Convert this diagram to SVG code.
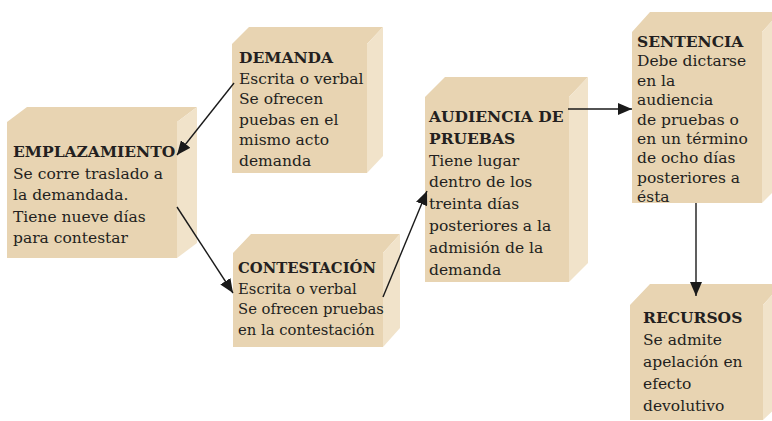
<svg xmlns="http://www.w3.org/2000/svg" width="772" height="421" viewBox="0 0 772 421">
<defs>
<style>
.front{fill:#e8d4b2}
.side{fill:#f1e3ca}
text{font-family:"DejaVu Serif","Liberation Serif",serif;font-size:15.5px;fill:#231f20}
.sm{font-size:14.8px}
.b{font-weight:bold}
.conn line{stroke:#1a1a1a;stroke-width:1.4}
</style>
<marker id="ah" viewBox="0 0 14 12" refX="14" refY="6" markerWidth="14" markerHeight="12" markerUnits="userSpaceOnUse" orient="auto">
<path d="M0,0 L14,6 L0,12 Z" fill="#1a1a1a"/>
</marker>
</defs>
<rect width="772" height="421" fill="#ffffff"/>

<g id="emplazamiento">
<path class="front" d="M7,122 L27,107 L197,107 L177,122 L177,258 L7,258 Z"/>
<path class="side" d="M177,122 L197,107 L197,243 L177,258 Z"/>
<text x="13" y="157"><tspan class="b">EMPLAZAMIENTO</tspan><tspan x="13" dy="21.5">Se corre traslado a</tspan><tspan x="13" dy="21.5">la demandada.</tspan><tspan x="13" dy="21.5">Tiene nueve días</tspan><tspan x="13" dy="21.5">para contestar</tspan></text>
</g>

<g id="demanda">
<path class="front" d="M232,44 L249,27 L383,27 L367,44 L367,173 L232,173 Z"/>
<path class="side" d="M367,44 L383,27 L383,156 L367,173 Z"/>
<text x="239" y="63"><tspan class="b">DEMANDA</tspan><tspan x="239" dy="20.6">Escrita o verbal</tspan><tspan x="239" dy="20.6">Se ofrecen</tspan><tspan x="239" dy="20.6">puebas en el</tspan><tspan x="239" dy="20.6">mismo acto</tspan><tspan x="239" dy="20.6">demanda</tspan></text>
</g>

<g id="contestacion">
<path class="front" d="M233,253 L251,234 L400,234 L383,253 L383,347 L233,347 Z"/>
<path class="side" d="M383,253 L400,234 L400,328 L383,347 Z"/>
<text class="sm" x="238" y="273"><tspan class="b">CONTESTACIÓN</tspan><tspan x="238" dy="20.7">Escrita o verbal</tspan><tspan x="238" dy="20.7">Se ofrecen pruebas</tspan><tspan x="238" dy="20.7">en la contestación</tspan></text>
</g>

<g id="audiencia">
<path class="front" d="M425,97 L445,77 L588,77 L569,97 L569,282 L425,282 Z"/>
<path class="side" d="M569,97 L588,77 L588,263 L569,282 Z"/>
<text x="429" y="122"><tspan class="b">AUDIENCIA DE</tspan><tspan class="b" x="429" dy="21.8">PRUEBAS</tspan><tspan x="429" dy="21.8">Tiene lugar</tspan><tspan x="429" dy="21.8">dentro de los</tspan><tspan x="429" dy="21.8">treinta días</tspan><tspan x="429" dy="21.8">posteriores a la</tspan><tspan x="429" dy="21.8">admisión de la</tspan><tspan x="429" dy="21.8">demanda</tspan></text>
</g>

<g id="sentencia">
<path class="front" d="M632,32 L650,12 L780,12 L762,32 L762,203 L632,203 Z"/>
<path class="side" d="M762,32 L780,12 L780,185 L762,203 Z"/>
<text x="637" y="47"><tspan class="b">SENTENCIA</tspan><tspan x="637" dy="19.4">Debe dictarse</tspan><tspan x="637" dy="19.4">en la</tspan><tspan x="637" dy="19.4">audiencia</tspan><tspan x="637" dy="19.4">de pruebas o</tspan><tspan x="637" dy="19.4">en un término</tspan><tspan x="637" dy="19.4">de ocho días</tspan><tspan x="637" dy="19.4">posteriores a</tspan><tspan x="637" dy="19.4">ésta</tspan></text>
</g>

<g id="recursos">
<path class="front" d="M630,305 L650,284 L782,284 L763,305 L763,420 L630,420 Z"/>
<path class="side" d="M763,305 L782,284 L782,402 L763,420 Z"/>
<text x="643" y="323"><tspan class="b">RECURSOS</tspan><tspan x="643" dy="22">Se admite</tspan><tspan x="643" dy="22">apelación en</tspan><tspan x="643" dy="22">efecto</tspan><tspan x="643" dy="22">devolutivo</tspan></text>
</g>

<g id="connectors" class="conn">
<line x1="234" y1="83" x2="177" y2="155" marker-end="url(#ah)"/>
<line x1="177" y1="207" x2="233" y2="293" marker-end="url(#ah)"/>
<line x1="383" y1="297" x2="427" y2="191" marker-end="url(#ah)"/>
<line x1="568" y1="109" x2="632" y2="109" marker-end="url(#ah)"/>
<line x1="696" y1="203" x2="696" y2="296" marker-end="url(#ah)"/>
</g>
</svg>
